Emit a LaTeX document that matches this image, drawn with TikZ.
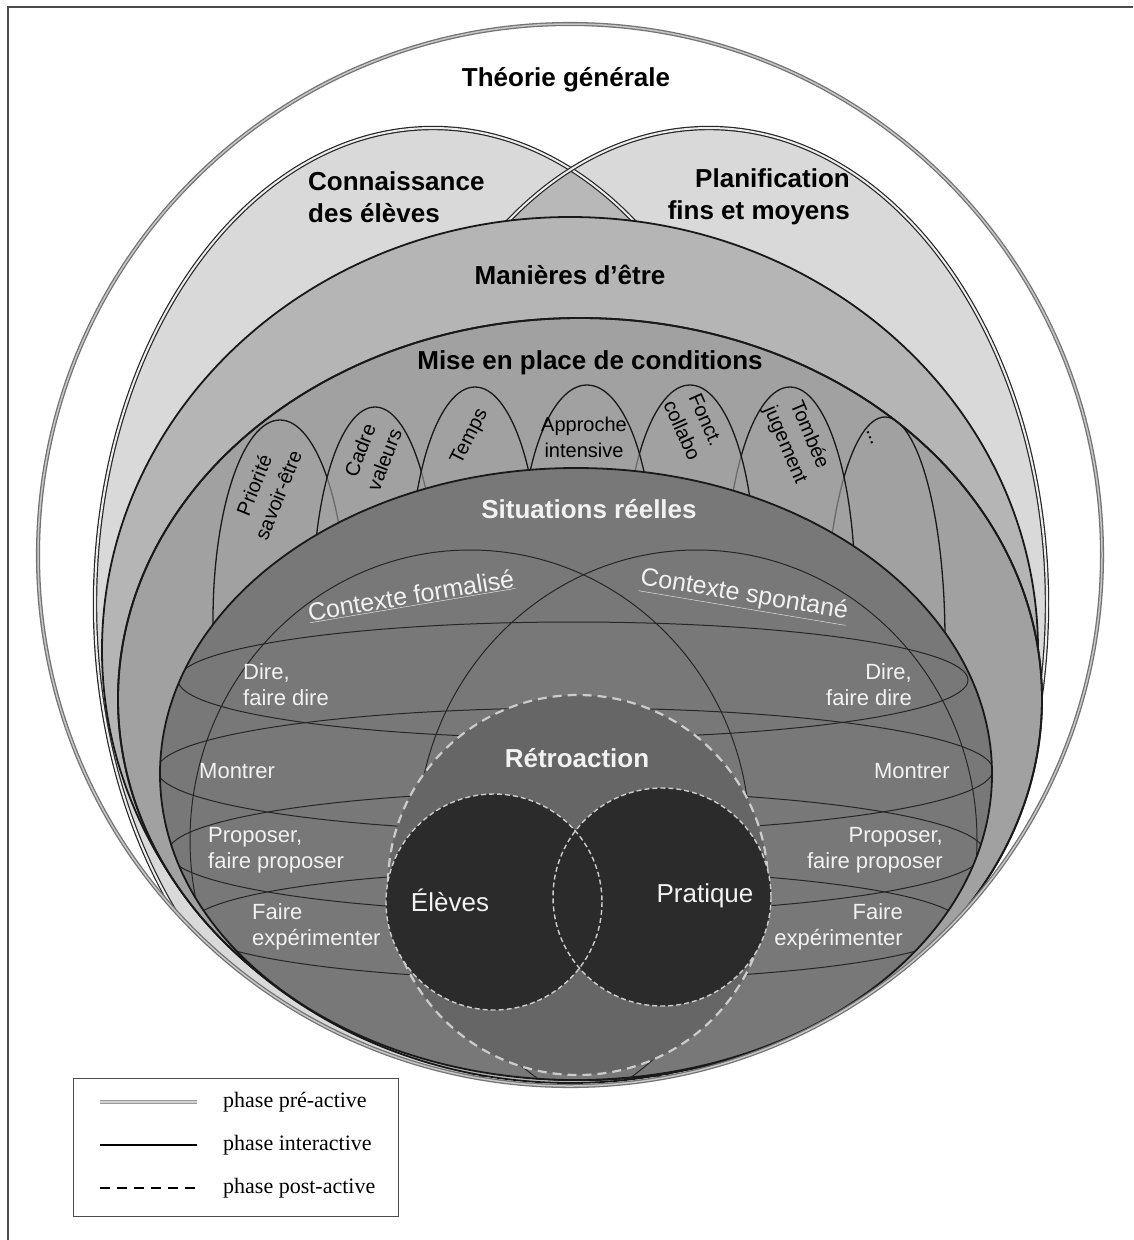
\documentclass[tikz,border=0pt]{standalone}
\usepackage{fontspec}
\setmainfont{Liberation Sans}
\newfontfamily\legfont{Liberation Serif}
\definecolor{manc}{gray}{0.71}
\definecolor{misec}{gray}{0.63}
\definecolor{sitc}{gray}{0.47}
\definecolor{retc}{gray}{0.40}
\definecolor{elc}{gray}{0.17}
\definecolor{txtw}{gray}{0.95}
\definecolor{dashc}{gray}{0.80}
\tikzset{
  preact/.style={draw=black!55, double=gray!45, double distance=1.5pt, line width=1.3pt},
  dblline/.style={draw=black!85, double=white!85!gray, double distance=2pt, line width=1.2pt},
  mainline/.style={draw=black!90, line width=1.8pt},
  archline/.style={draw=black!90, line width=1.3pt, fill=misec, fill opacity=0.6},
  thinline/.style={draw=black!85, line width=1pt},
  postact/.style={draw=dashc, line width=2.2pt, dash pattern=on 9pt off 6pt},
  postsmall/.style={draw=dashc, line width=1.4pt, dash pattern=on 5pt off 3pt},
  hd/.style={font=\fontsize{26}{32}\selectfont\bfseries, inner sep=0pt},
  wlbl/.style={font=\fontsize{22}{26}\selectfont, text=txtw, inner sep=0pt},
  alb/.style={font=\fontsize{20}{26}\selectfont, inner sep=0pt, align=center},
  ctx/.style={font=\fontsize{25}{30}\selectfont, text=txtw, inner sep=0pt},
  big/.style={font=\fontsize{26}{30}\selectfont, text=txtw, inner sep=0pt},
  leg/.style={font=\legfont\fontsize{22}{26}\selectfont, anchor=west, inner sep=0pt},
}
\begin{document}
\begin{tikzpicture}[x=1pt,y=-1pt]
\useasboundingbox (0,0) rectangle (1133,1240);
\fill[white] (0,0) rectangle (1133,1240);
% frame
\draw[black!70, line width=1.5pt] (8,1240) -- (8,7) -- (1133,7);

\begin{scope}
  \clip (570,555) ellipse [x radius=532, y radius=531];
  % Connaissance / Planification
  \fill[black, fill opacity=0.15] (433,604) ellipse [x radius=338, y radius=476];
  \fill[black, fill opacity=0.15] (709,604) ellipse [x radius=338, y radius=476];
  \draw[dblline] (433,604) ellipse [x radius=338, y radius=476];
  \draw[dblline] (709,604) ellipse [x radius=338, y radius=476];
  % Manieres d'etre
  \draw[mainline, fill=manc] (570,650) ellipse [x radius=468, y radius=433];
  % Mise en place
  \draw[mainline, fill=misec] (580,699) ellipse [x radius=462, y radius=381];
  % arches
  \begin{scope}
    \clip (580,699) ellipse [x radius=462, y radius=381];
    \draw[archline] (280,620) ellipse [x radius=67, y radius=200];
    \draw[archline] (375,600) ellipse [x radius=62, y radius=193];
    \draw[archline] (475,580) ellipse [x radius=65, y radius=193];
    \draw[archline] (885,640) ellipse [x radius=60, y radius=223];
    \draw[archline] (790,590) ellipse [x radius=65, y radius=203];
    \draw[archline] (690,570) ellipse [x radius=65, y radius=185];
    \draw[archline] (587,560) ellipse [x radius=66, y radius=175];
  \end{scope}
  \draw[mainline] (580,699) ellipse [x radius=462, y radius=381];
  % Situations reelles
  \fill[sitc] (576,774) ellipse [x radius=416, y radius=306];
  \begin{scope}
    \clip (576,774) ellipse [x radius=416, y radius=306];
    \draw[thinline] (470,840) ellipse [x radius=280, y radius=290];
    \draw[thinline] (697,840) ellipse [x radius=280, y radius=290];
    \draw[thinline] (573,680) ellipse [x radius=395, y radius=58];
    \draw[thinline] (575,770) ellipse [x radius=418, y radius=62];
    \draw[thinline] (576,852) ellipse [x radius=408, y radius=61];
    \draw[thinline] (576,925) ellipse [x radius=386, y radius=55];
  \end{scope}
  \draw[mainline] (576,774) ellipse [x radius=416, y radius=306];
  % Retroaction
  \fill[retc] (578,885) circle [radius=190];
  \draw[postact] (578,885) circle [radius=190];
  \fill[elc] (494,902) circle [radius=108];
  \fill[elc] (662,897) circle [radius=109];
  \draw[postsmall] (494,902) circle [radius=108];
  \draw[postsmall] (662,897) circle [radius=109];
\end{scope}
% outer ellipse
\draw[preact] (570,555) ellipse [x radius=532, y radius=531];

% headings
\node[hd] (theo) at (566,80) {Théorie générale};
\node[hd, anchor=west, align=left] (conn) at (308,197) {Connaissance\\des élèves};
\node[hd, anchor=east, align=right] (plan) at (850,197) {Planification\\fins et moyens};
\node[hd] (man) at (570,275) {Manières d'être};
\node[hd] (mise) at (590,363) {Mise en place de conditions};
\node[hd, text=txtw] (sit) at (589,509) {Situations réelles};
\node[hd, text=txtw] (retro) at (577,758) {Rétroaction};

% arch labels
\node[alb, rotate=68] (prio) at (266,490) {Priorité\\savoir-être};
\node[alb, rotate=69] (cadre) at (372,455) {Cadre\\valeurs};
\node[alb, rotate=63] (temps) at (470,437) {Temps};
\node[alb] (appr) at (584,437) {Approche\\intensive};
\node[alb, rotate=-66] (fonct) at (694,425) {Fonct.\\collabo};
\node[alb, rotate=-67] (tomb) at (797,440) {Tombée\\jugement};
\node[alb, rotate=-70] (dots) at (870,438) {...};

% contexts
\node[ctx, rotate=9.5] (cform) at (411,596) {\underline{Contexte formalisé}};
\node[ctx, rotate=-9.5] (cspon) at (744,596) {\underline{Contexte spontané}};

% left labels
\node[wlbl, anchor=west, align=left] (dirL) at (243,685) {Dire,\\faire dire};
\node[wlbl, anchor=west] (monL) at (199,771) {Montrer};
\node[wlbl, anchor=west, align=left] (propL) at (208,850) {Proposer,\\faire proposer};
\node[wlbl, anchor=west, align=left] (faiL) at (252,927) {Faire\\expérimenter};
% right labels
\node[wlbl, anchor=east, align=right] (dirR) at (912,685) {Dire,\\faire dire};
\node[wlbl, anchor=east] (monR) at (950,771) {Montrer};
\node[wlbl, anchor=east, align=right] (propR) at (943,850) {Proposer,\\faire proposer};
\node[wlbl, anchor=east, align=right] (faiR) at (903,927) {Faire\\expérimenter};

\node[big] (eleves) at (450,900) {Élèves};
\node[big] (prat) at (705,896) {Pratique};

% legend
\draw[black!70, line width=1pt, fill=white] (73,1078) rectangle (398,1216);
\coordinate (l1a) at (100,1102);
\coordinate (l1b) at (197,1102);
\coordinate (l2a) at (100,1145);
\coordinate (l2b) at (197,1145);
\coordinate (l3a) at (100,1188);
\coordinate (l3b) at (197,1188);
\draw[draw=gray!80, double=gray!35, double distance=1.2pt, line width=1.4pt] (l1a) -- (l1b);
\draw[black, line width=1.5pt] (l2a) -- (l2b);
\draw[black, line width=1.5pt, dash pattern=on 10pt off 7pt] (l3a) -- (l3b);
\node[leg] (t1) at (223,1102) {phase pré-active};
\node[leg] (t2) at (223,1145) {phase interactive};
\node[leg] (t3) at (223,1188) {phase post-active};
\end{tikzpicture}
\end{document}
